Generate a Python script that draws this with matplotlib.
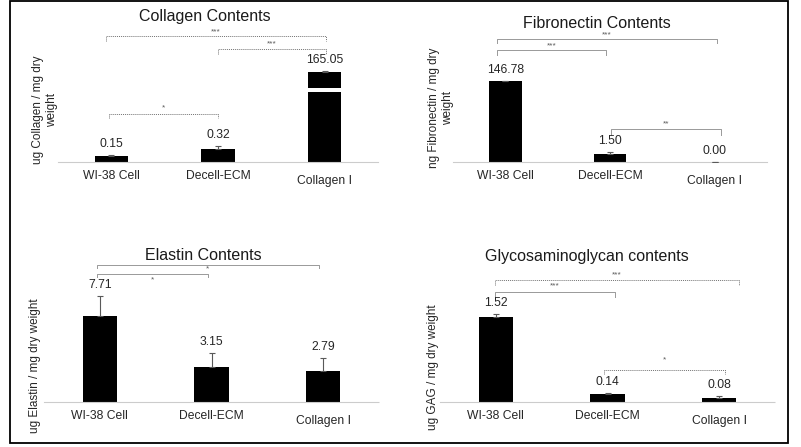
import numpy as np
import matplotlib.pyplot as plt
from matplotlib.patches import Rectangle
from matplotlib.transforms import ScaledTranslation

plt.rcParams["font.family"] = ["Liberation Sans", "DejaVu Sans"]

groups = ["WI-38 Cell", "Decell-ECM", "Collagen Ⅰ"]

collagen = [0.15, 0.32, 165.05]
collagen_err = [0.02, 0.07, 0.05]
fibronectin = [146.78, 1.50, 0.00]
fibronectin_err = [1.2, 0.74, 0.0]
elastin = [7.71, 3.15, 2.79]
elastin_err = [1.79, 1.24, 1.15]
gag = [1.52, 0.14, 0.08]
gag_err = [0.05, 0.02, 0.03]

W, H = 801, 447
fig = plt.figure(figsize=(W / 100, H / 100), dpi=100)


def box(x0, y0, x1, y1):
    # pixel box (top-left origin) -> figure fraction
    return [x0 / W, 1 - y1 / H, (x1 - x0) / W, (y1 - y0) / H]


def draw_bars(ax, vals, errs):
    x = np.arange(len(groups))
    ax.bar(x, vals, width=0.31, color="black", zorder=2)
    ax.errorbar(
        x, vals, yerr=[np.zeros(len(errs)), errs], fmt="none",
        ecolor="0.35", elinewidth=0.8, capsize=2.5, capthick=0.8, zorder=3,
    )
    ax.set_xlim(-0.5, 2.5)
    lo, hi = ax.get_ylim()
    for xi, v, e in zip(x, vals, errs):
        if lo <= v + e <= hi:
            ax.annotate(
                f"{v:.2f}", (xi, v + e), xytext=(0, 3.5),
                textcoords="offset points", ha="center", va="bottom",
                fontsize=8.7, color="0.15",
            )


def style(ax, ticks=True):
    for s in ["top", "right", "left"]:
        ax.spines[s].set_visible(False)
    ax.spines["bottom"].set_color("0.8")
    ax.spines["bottom"].set_linestyle((0, (1, 1)))
    ax.set_yticks([])
    ax.patch.set_alpha(0)
    if not ticks:
        ax.set_xticks([])
        ax.spines["bottom"].set_visible(False)
        return
    ax.set_xticks(np.arange(len(groups)))
    ax.set_xticklabels(groups)
    ax.tick_params(axis="x", length=0, pad=6, labelsize=8.7, labelcolor="0.15")
    lab = ax.get_xticklabels()[2]
    lab.set_transform(lab.get_transform()
                      + ScaledTranslation(0, -0.05, fig.dpi_scale_trans))


def bracket(ax, x0, x1, y, drop, text, ty, ls=(0, (1, 1)), color="0.45"):
    tr = ax.get_xaxis_transform()
    ax.plot([x0, x0, x1, x1], [y - drop, y, y, y - drop], color=color,
            lw=0.7, ls=ls, transform=tr, clip_on=False)
    ax.text((x0 + x1) / 2, ty, text, transform=tr, ha="center", va="center",
            fontsize=6, color="0.35")


# ---- Collagen (broken axis) ----
ax1lo = fig.add_axes(box(58, 92, 378, 162))
ax1hi = fig.add_axes(box(58, 22, 378, 88))
ax1lo.set_ylim(0, 1.72)
ax1hi.set_ylim(164.0, 168.33)
draw_bars(ax1lo, collagen, collagen_err)
draw_bars(ax1hi, collagen, collagen_err)
style(ax1lo)
style(ax1hi, ticks=False)
bracket(ax1hi, -0.05, 2.01, 0.788, 0.076, "***", 0.85)
bracket(ax1hi, 1.0, 2.01, 0.59, 0.075, "***", 0.67)
bracket(ax1lo, -0.02, 1.0, 0.686, 0.057, "*", 0.77)
fig.text(45 / W, 1 - 110 / H, "ug Collagen / mg dry\nweight", rotation=90,
         ha="center", va="center", fontsize=8.5, color="0.15",
         multialignment="center", linespacing=1.15)
fig.text(205 / W, 1 - 17 / H, "Collagen Contents", ha="center", va="center",
         fontsize=11.5, color="0.1")

# ---- Fibronectin ----
ax2 = fig.add_axes(box(453, 20, 767, 162))
ax2.set_yscale("function", functions=(np.sqrt, np.square))
ax2.set_ylim(0, 451)
draw_bars(ax2, fibronectin, fibronectin_err)
style(ax2)
bracket(ax2, -0.08, 2.02, 0.866, 0.028, "***", 0.894, ls="-", color="0.6")
bracket(ax2, -0.08, 0.96, 0.789, 0.035, "***", 0.817, ls="-", color="0.6")
bracket(ax2, 1.01, 2.06, 0.232, 0.042, "**", 0.268, ls="-", color="0.6")
fig.text(441 / W, 1 - 108 / H, "ng Fibronectin / mg dry\nweight", rotation=90,
         ha="center", va="center", fontsize=8.5, color="0.15",
         multialignment="center", linespacing=1.15)
fig.text(597 / W, 1 - 24 / H, "Fibronectin Contents", ha="center",
         va="center", fontsize=11.5, color="0.1")

# ---- Elastin ----
ax3 = fig.add_axes(box(44, 240, 379, 402))
ax3.set_ylim(0, 14.52)
draw_bars(ax3, elastin, elastin_err)
style(ax3)
bracket(ax3, -0.025, 1.96, 0.846, 0.019, "*", 0.821, ls="-", color="0.6")
bracket(ax3, -0.025, 0.97, 0.790, 0.018, "*", 0.753, ls="-", color="0.6")
fig.text(35 / W, 1 - 366 / H, "ug Elastin / mg dry weight", rotation=90,
         ha="center", va="center", fontsize=8.5, color="0.15")
fig.text(203 / W, 1 - 255 / H, "Elastin Contents", ha="center", va="center",
         fontsize=11.5, color="0.1")

# ---- GAG ----
ax4 = fig.add_axes(box(440, 240, 775, 402))
ax4.set_ylim(0, 2.897)
draw_bars(ax4, gag, gag_err)
style(ax4)
bracket(ax4, -0.01, 2.18, 0.753, 0.031, "***", 0.784)
bracket(ax4, -0.01, 1.07, 0.679, 0.031, "***", 0.716, ls="-", color="0.6")
bracket(ax4, 0.97, 2.05, 0.198, 0.025, "*", 0.259)
fig.text(433 / W, 1 - 367 / H, "ug GAG / mg dry weight", rotation=90,
         ha="center", va="center", fontsize=8.5, color="0.15")
fig.text(587 / W, 1 - 256 / H, "Glycosaminoglycan contents", ha="center",
         va="center", fontsize=11.5, color="0.1")

# outer frame
fig.patches.append(Rectangle((10 / W, 1 - 443 / H), 778 / W, 442 / H,
                             transform=fig.transFigure, fill=False,
                             edgecolor="black", linewidth=1.3))

fig.savefig("out.png", dpi=100)
